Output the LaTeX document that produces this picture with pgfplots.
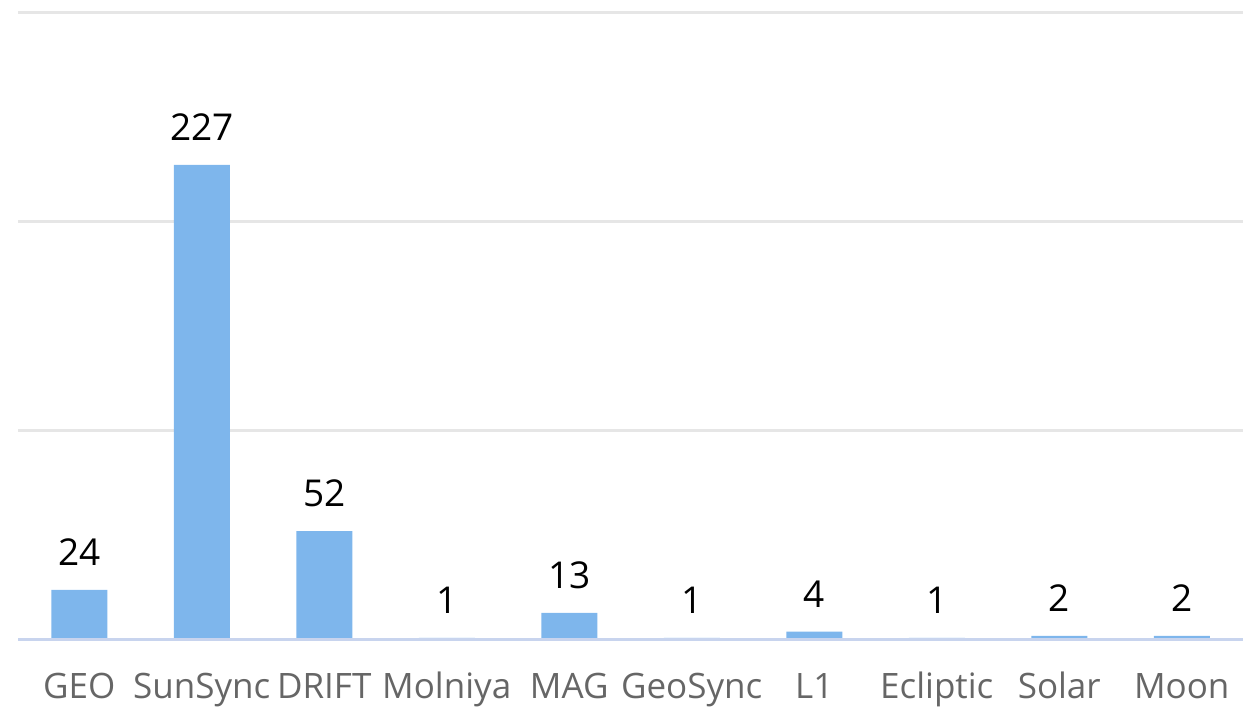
\documentclass[border=0pt]{standalone}
\usepackage{pgfplots}
\pgfplotsset{compat=1.18}
\usepackage{fontspec}
\setmainfont{Open Sans}
\definecolor{barblue}{HTML}{7EB6EC}
\definecolor{gridgray}{HTML}{E6E6E6}
\definecolor{baseblue}{HTML}{C8D4EE}
\definecolor{labgray}{HTML}{666666}
\begin{document}
\begin{tikzpicture}
\useasboundingbox (-9pt,-33.5pt) rectangle (618.5pt,320pt);
\begin{axis}[
  at={(0,0)}, anchor=south west,
  scale only axis,
  width=612.5pt, height=316pt,
  xmin=-0.5, xmax=9.5,
  ymin=0, ymax=302,
  axis line style={draw=none},
  ytick={100,200,300},
  ymajorgrids,
  grid style={gridgray, line width=1.5pt},
  xtick={0,...,9},
  xticklabels={GEO,SunSync,DRIFT,Molniya,MAG,GeoSync,L1,Ecliptic,Solar,Moon},
  xticklabel style={font=\fontsize{17.5}{20}\selectfont, text=labgray, anchor=base, inner sep=0pt, yshift=-29.5pt},
  yticklabels={},
  major tick length=0pt,
  tick style={draw=none},
  /pgf/number format/assume math mode=true,
  nodes near coords,
  nodes near coords style={font=\fontsize{18.5}{21}\selectfont, text=black, anchor=south, inner sep=0pt, yshift=12pt},
  clip=false,
]
\addplot[ybar, bar width=28pt, fill=barblue, draw=none] coordinates {
(0,24) (1,227) (2,52) (3,1) (4,13) (5,1) (6,4) (7,1) (8,2) (9,2)};
\draw[baseblue, line width=1.5pt] (axis cs:-0.5,0) -- (axis cs:9.5,0);
\end{axis}
\end{tikzpicture}
\end{document}
